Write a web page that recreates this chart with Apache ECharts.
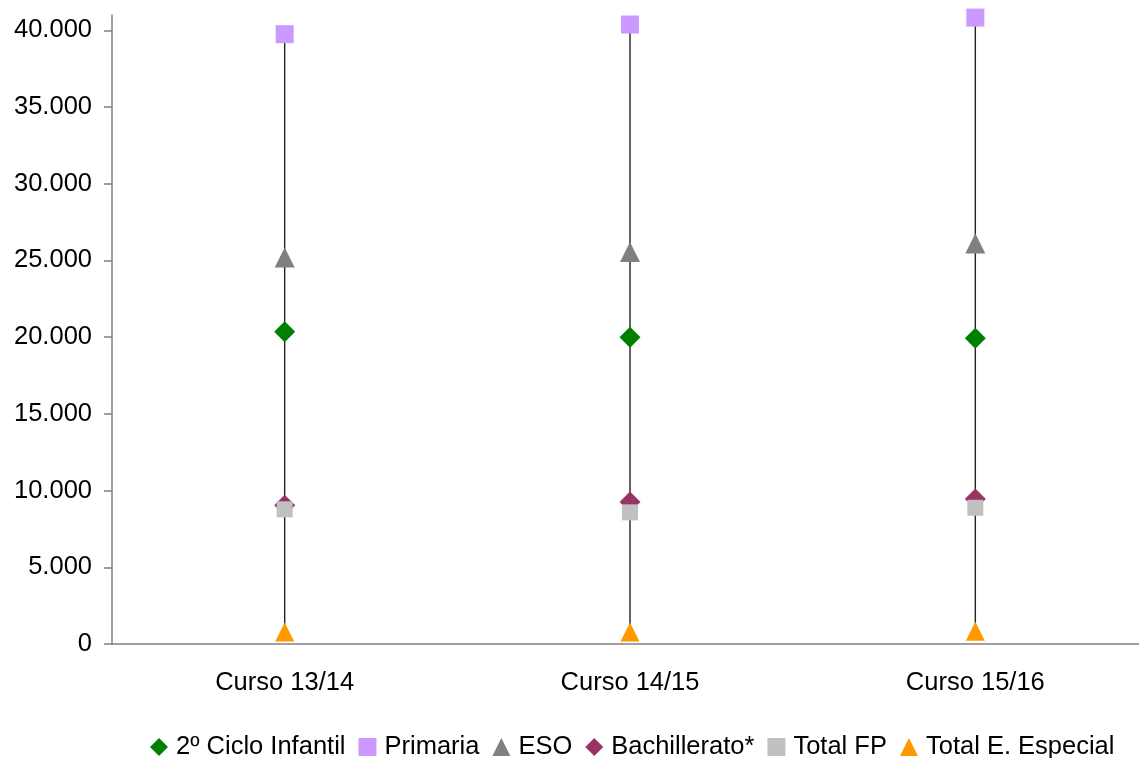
<!DOCTYPE html>
<html><head><meta charset="utf-8">
<script src="https://cdn.jsdelivr.net/npm/echarts@6/dist/echarts.min.js"></script>
<style>html,body{margin:0;padding:0;background:#fff;overflow:hidden;width:1139px;height:758px}#c{width:1148px;height:758px}</style>
</head><body><div id="c"></div>
<script>
const categories = ['Curso 13/14', 'Curso 14/15', 'Curso 15/16'];
const infantil = [20350, 20000, 19930];
const primaria = [39750, 40380, 40830];
const eso = [25200, 25550, 26100];
const bachillerato = [9050, 9250, 9450];
const totalFP = [8780, 8580, 8880];
const especial = [780, 790, 830];
const yTicks = [0, 5000, 10000, 15000, 20000, 25000, 30000, 35000, 40000];

const seriesDefs = [
  {name: '2º Ciclo Infantil', data: infantil, symbol: 'diamond', color: '#008000', size: [21, 21]},
  {name: 'Primaria', data: primaria, symbol: 'rect', color: '#CC99FF', size: [18, 18]},
  {name: 'ESO', data: eso, symbol: 'triangle', color: '#808080', size: [20, 20]},
  {name: 'Bachillerato*', data: bachillerato, symbol: 'diamond', color: '#993366', size: [21, 21]},
  {name: 'Total FP', data: totalFP, symbol: 'rect', color: '#C0C0C0', size: [16, 16]},
  {name: 'Total E. Especial', data: especial, symbol: 'triangle', color: '#FF9900', size: [19, 19]}
];

const all = seriesDefs.map(s => s.data);
const hiLo = categories.map((c, i) => {
  const vals = all.map(a => a[i]);
  return [i, Math.min(...vals), Math.max(...vals)];
});

const fmt = v => v === 0 ? '0' : v.toLocaleString('de-DE');
const font = 'Liberation Sans, Arial, sans-serif';

const chart = echarts.init(document.getElementById('c'));
chart.setOption({
  animation: false,
  grid: {left: 112, right: 0, top: 15, bottom: 114},
  xAxis: {
    type: 'category', data: categories, boundaryGap: true,
    axisLine: {lineStyle: {color: '#808080', width: 1.5}},
    axisTick: {alignWithLabel: true, length: 4, lineStyle: {color: '#000'}},
    axisLabel: {color: '#000', fontSize: 25.5, fontFamily: font, margin: 26}
  },
  yAxis: {
    type: 'value', min: 0, max: 41000, interval: 5000,
    splitLine: {show: false},
    axisLine: {show: true, lineStyle: {color: '#808080', width: 1.5}},
    axisTick: {show: true, length: 8, customValues: yTicks, lineStyle: {color: '#808080', width: 1.5}},
    axisLabel: {color: '#000', fontSize: 25.5, fontFamily: font, margin: 20, customValues: yTicks, formatter: fmt}
  },
  legend: {
    left: 145, top: 729,
    itemWidth: 18, itemHeight: 18, itemGap: 13,
    textStyle: {color: '#000', fontSize: 25.5, fontFamily: font, padding: [0, 0, 0, 3]},
    data: seriesDefs.map(s => ({name: s.name, icon: s.symbol}))
  },
  series: [
    {
      type: 'custom', name: 'hilo', z: 1, silent: true,
      data: hiLo,
      renderItem: (params, api) => {
        const p1 = api.coord([api.value(0), api.value(1)]);
        const p2 = api.coord([api.value(0), api.value(2)]);
        return {type: 'line', shape: {x1: p1[0], y1: p1[1], x2: p2[0], y2: p2[1]},
          style: {stroke: '#222', lineWidth: 1.4}};
      }
    },
    ...seriesDefs.map(s => ({
      type: 'scatter', name: s.name, data: s.data, symbol: s.symbol, symbolSize: s.size,
      itemStyle: {color: s.color, opacity: 1}, z: 3, clip: false
    }))
  ]
});
</script></body></html>
